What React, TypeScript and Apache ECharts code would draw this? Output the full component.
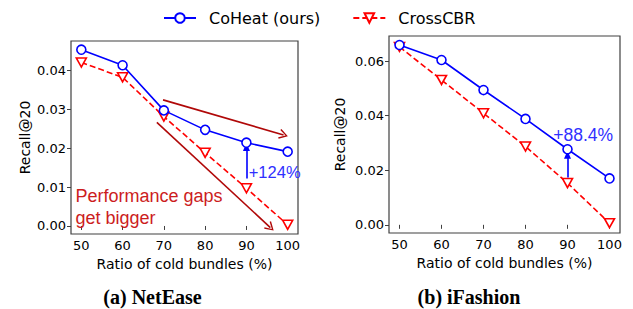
import React, { useEffect, useRef } from "react";
import * as echarts from "echarts";

const ratios = [50, 60, 70, 80, 90, 100];
const tickValuesX = [50, 60, 70, 80, 90, 100];
const netCoHeat = [0.0453, 0.0413, 0.0297, 0.0247, 0.0214, 0.0191];
const netCross = [0.042, 0.0382, 0.0281, 0.0188, 0.0097, 0.0003];
const ifCoHeat = [0.0659, 0.0604, 0.0494, 0.0388, 0.0277, 0.017];
const ifCross = [0.0652, 0.0531, 0.0409, 0.0287, 0.0153, 0.0006];
const netTicksY = [0, 0.01, 0.02, 0.03, 0.04];
const ifTicksY = [0, 0.02, 0.04, 0.06];

const FONT = "DejaVu Sans";
const SANS2 = "Liberation Sans";
const BLUE = "#0000ff";
const RED = "#ff0000";
const DARKRED = "#b00808";
const FRAME = "#404040";

const chevron = "path://M5,0 L10,10 L8.8,11 L5,3 L1.2,11 L0,10 Z";

function pairs(xs: number[], ys: number[]) {
  return xs.map((x, i) => [x, ys[i]]);
}

export default function App() {
  const ref = useRef<HTMLDivElement>(null);
  useEffect(() => {
    if (!ref.current) return;
    const chart = echarts.init(ref.current, null, { renderer: "svg" });
    const xAxisBase = (gridIndex: number) => ({
      type: "value",
      gridIndex,
      min: 47.5,
      max: 102.5,
      name: "Ratio of cold bundles (%)",
      nameLocation: "middle",
      nameGap: 23,
      nameTextStyle: { fontFamily: FONT, fontSize: 14, color: "#000" },
      axisLine: { show: false },
      splitLine: { show: false },
      axisTick: {
        show: true,
        inside: false,
        length: 4,
        lineStyle: { color: FRAME, width: 1 },
        customValues: tickValuesX,
      },
      axisLabel: {
        fontFamily: FONT,
        fontSize: 13,
        color: "#000",
        margin: 5,
        customValues: tickValuesX,
      },
    });
    const yAxisBase = (
      gridIndex: number,
      min: number,
      max: number,
      ticks: number[],
      gap: number
    ) => ({
      type: "value",
      gridIndex,
      min,
      max,
      name: "Recall@20",
      nameLocation: "middle",
      nameGap: gap,
      nameTextStyle: { fontFamily: FONT, fontSize: 14, color: "#000" },
      axisLine: { show: false },
      splitLine: { show: false },
      axisTick: {
        show: true,
        inside: false,
        length: 4,
        lineStyle: { color: FRAME, width: 1 },
        customValues: ticks,
      },
      axisLabel: {
        fontFamily: FONT,
        fontSize: 13,
        color: "#000",
        margin: 5,
        customValues: ticks,
        formatter: (v: number) => v.toFixed(2),
      },
    });

    const coheatStyle = {
      type: "line",
      name: "CoHeat (ours)",
      symbol: "circle",
      symbolSize: 9,
      z: 5,
      lineStyle: { color: BLUE, width: 1.6 },
      itemStyle: { color: "#fff", borderColor: BLUE, borderWidth: 1.6 },
      color: BLUE,
    };
    const crossStyle = {
      type: "line",
      name: "CrossCBR",
      symbol: "triangle",
      symbolRotate: 180,
      symbolSize: [10, 9],
      z: 4,
      lineStyle: { color: RED, width: 1.6, type: [6, 3] },
      itemStyle: { color: "#fff", borderColor: RED, borderWidth: 1.6 },
      color: RED,
    };

    const option: any = {
      animation: false,
      legend: {
        left: 158,
        top: 5,
        itemWidth: 32,
        itemHeight: 12,
        itemGap: 32,
        textStyle: {
          fontFamily: FONT,
          fontSize: 16,
          color: "#000",
          padding: [0, 0, 0, 8],
        },
        data: ["CoHeat (ours)", "CrossCBR"],
      },
      grid: [
        {
          left: 71,
          top: 41,
          width: 227,
          height: 193,
          show: true,
          borderColor: FRAME,
          borderWidth: 1.2,
          backgroundColor: "transparent",
        },
        {
          left: 389,
          top: 36,
          width: 231,
          height: 197,
          show: true,
          borderColor: FRAME,
          borderWidth: 1.2,
          backgroundColor: "transparent",
        },
      ],
      xAxis: [xAxisBase(0), xAxisBase(1)],
      yAxis: [
        yAxisBase(0, -0.00206, 0.04753, netTicksY, 39),
        yAxisBase(1, -0.003, 0.0692, ifTicksY, 42),
      ],
      series: [
        {
          ...coheatStyle,
          xAxisIndex: 0,
          yAxisIndex: 0,
          data: pairs(ratios, netCoHeat),
          markLine: {
            silent: true,
            animation: false,
            label: { show: false },
            data: [
              [
                {
                  coord: [69.8, 0.0324],
                  symbol: "none",
                  lineStyle: { color: DARKRED, width: 1.6, type: "solid" },
                },
                { coord: [99.0, 0.0234], symbol: chevron, symbolSize: [10, 9] },
              ],
              [
                {
                  coord: [68.3, 0.0266],
                  symbol: "none",
                  lineStyle: { color: DARKRED, width: 1.6, type: "solid" },
                },
                { coord: [95.8, -0.0004], symbol: chevron, symbolSize: [10, 9] },
              ],
              [
                {
                  coord: [90, 0.0122],
                  symbol: "none",
                  lineStyle: { color: BLUE, width: 1.6, type: "solid" },
                },
                { coord: [90, 0.0203], symbol: "triangle", symbolSize: [7, 8] },
              ],
            ],
          },
          markPoint: {
            silent: true,
            animation: false,
            symbolSize: 0,
            data: [
              {
                coord: [90.56, 0.0138],
                label: {
                  show: true,
                  position: "inside",
                  align: "left",
                  verticalAlign: "middle",
                  formatter: "+124%",
                  fontFamily: SANS2,
                  fontSize: 16.5,
                  color: "#3030ff",
                },
              },
              {
                coord: [48.6, 0.00475],
                label: {
                  show: true,
                  position: "inside",
                  align: "left",
                  verticalAlign: "middle",
                  formatter: "Performance gaps\nget bigger",
                  fontFamily: SANS2,
                  fontSize: 18,
                  lineHeight: 22,
                  color: "#cc1d1d",
                },
              },
            ],
          },
        },
        {
          ...crossStyle,
          xAxisIndex: 0,
          yAxisIndex: 0,
          data: pairs(ratios, netCross),
        },
        {
          ...coheatStyle,
          xAxisIndex: 1,
          yAxisIndex: 1,
          data: pairs(ratios, ifCoHeat),
          markLine: {
            silent: true,
            animation: false,
            label: { show: false },
            data: [
              [
                {
                  coord: [90, 0.0173],
                  symbol: "none",
                  lineStyle: { color: BLUE, width: 1.6, type: "solid" },
                },
                { coord: [90, 0.0257], symbol: "triangle", symbolSize: [7, 8] },
              ],
            ],
          },
          markPoint: {
            silent: true,
            animation: false,
            symbolSize: 0,
            data: [
              {
                coord: [86.6, 0.0331],
                label: {
                  show: true,
                  position: "inside",
                  align: "left",
                  verticalAlign: "middle",
                  formatter: "+88.4%",
                  fontFamily: SANS2,
                  fontSize: 17.5,
                  color: "#3030ff",
                },
              },
            ],
          },
        },
        {
          ...crossStyle,
          xAxisIndex: 1,
          yAxisIndex: 1,
          data: pairs(ratios, ifCross),
        },
      ],
      graphic: [
        {
          type: "text",
          x: 152.5,
          y: 296.5,
          style: {
            text: "(a) NetEase",
            fontFamily: "Liberation Serif",
            fontWeight: "bold",
            fontSize: 20,
            fill: "#000",
            align: "center",
            verticalAlign: "middle",
          },
        },
        {
          type: "text",
          x: 469,
          y: 296.5,
          style: {
            text: "(b) iFashion",
            fontFamily: "Liberation Serif",
            fontWeight: "bold",
            fontSize: 20,
            fill: "#000",
            align: "center",
            verticalAlign: "middle",
          },
        },
      ],
    };
    chart.setOption(option);
    return () => chart.dispose();
  }, []);
  return (
    <div
      ref={ref}
      style={{ width: 633, height: 309, position: "absolute", left: 0, top: 0 }}
    />
  );
}
